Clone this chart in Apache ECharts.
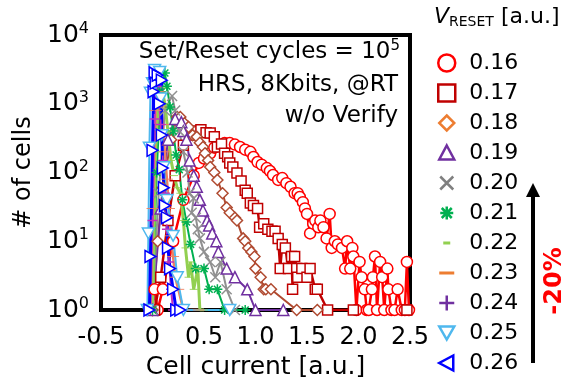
<!DOCTYPE html>
<html>
<head>
<meta charset="utf-8">
<script src="https://cdn.jsdelivr.net/npm/echarts@6/dist/echarts.min.js"></script>
<style>
  html, body { margin: 0; padding: 0; background: #fff; }
  #main { width: 570px; height: 380px; }
</style>
</head>
<body>
<div id="main"></div>
<script>
// V_RESET values (legend) and [cell current, # of cells]
var vReset = ['0.16', '0.17', '0.18', '0.19', '0.20', '0.21', '0.22', '0.23', '0.24', '0.25', '0.26'];
var yTicks = [1, 10, 100, 1000, 10000];
var xTicks = [-0.5, 0, 0.5, 1.0, 1.5, 2.0, 2.5];

var d016 = [[0.0,1],[0.02,2],[0.05,1],[0.1,2],[0.2,10],[0.3,40],[0.4,90],[0.45,138],[0.5,160],[0.56,190],[0.6,230],[0.66,250],[0.7,268],[0.75,268],[0.8,255],[0.85,235],[0.9,215],[0.95,200],[0.98,168],[1.02,142],[1.06,130],[1.11,116],[1.14,105],[1.17,92],[1.22,78],[1.26,83],[1.3,70],[1.34,62],[1.38,50],[1.41,50],[1.43,44],[1.46,37],[1.48,30],[1.5,25],[1.53,13],[1.56,18],[1.58,20],[1.61,16],[1.63,20],[1.66,16],[1.69,11],[1.72,25],[1.74,8],[1.77,10],[1.8,9],[1.84,8],[1.87,4],[1.89,10],[1.92,4],[1.94,8],[1.95,6],[1.98,1],[2.01,5],[2.03,3],[2.06,2],[2.08,1],[2.1,1],[2.13,2],[2.14,3],[2.16,6],[2.18,1],[2.21,5],[2.23,3],[2.25,1],[2.28,4],[2.29,2],[2.32,1],[2.35,1],[2.38,2],[2.42,1],[2.45,1],[2.47,5],[2.49,1]];
var d017 = [[0.02,1],[0.08,3],[0.15,20],[0.22,90],[0.3,250],[0.36,350],[0.39,380],[0.43,400],[0.47,420],[0.52,380],[0.56,375],[0.6,330],[0.63,235],[0.67,260],[0.7,190],[0.73,170],[0.75,138],[0.78,120],[0.82,98],[0.86,75],[0.9,55],[0.92,50],[0.95,36],[0.98,33],[1.02,30],[1.04,16],[1.08,18],[1.12,15],[1.16,14],[1.19,14],[1.22,11],[1.24,4],[1.26,9],[1.29,8],[1.32,4],[1.35,6],[1.36,2],[1.38,6],[1.4,4],[1.41,3],[1.45,4],[1.5,3],[1.53,4],[1.58,2],[1.6,2],[1.7,1],[1.95,1],[2.47,1]];
var d018 = [[0.0,1],[0.05,10],[0.1,60],[0.18,300],[0.24,640],[0.27,640],[0.31,520],[0.35,460],[0.39,350],[0.43,330],[0.46,270],[0.49,235],[0.51,190],[0.54,150],[0.56,120],[0.6,100],[0.63,78],[0.68,50],[0.72,31],[0.75,26],[0.8,22],[0.82,20],[0.88,11],[0.9,10],[0.93,8],[0.96,7],[0.99,6],[1.0,4],[1.05,3],[1.08,2],[1.1,2],[1.15,2],[1.4,1],[1.6,1]];
var d019 = [[0.0,1],[0.08,30],[0.15,300],[0.22,600],[0.28,540],[0.3,400],[0.33,300],[0.36,150],[0.4,90],[0.43,62],[0.46,40],[0.49,28],[0.53,20],[0.55,17],[0.58,13],[0.62,10],[0.64,7],[0.72,4],[0.8,3],[0.92,2],[1.0,1],[1.27,1]];
var d020 = [[0.0,1],[0.06,50],[0.12,800],[0.19,1300],[0.22,800],[0.26,400],[0.3,200],[0.34,100],[0.36,50],[0.4,42],[0.38,26],[0.42,22],[0.44,15],[0.46,11],[0.5,7],[0.56,5],[0.61,3],[0.66,5],[0.72,2],[0.8,1]];
var d021 = [[0.0,1],[0.04,100],[0.08,1500],[0.12,2800],[0.14,1800],[0.17,900],[0.2,400],[0.23,180],[0.26,110],[0.29,40],[0.33,19],[0.37,9],[0.42,4],[0.5,4],[0.55,2],[0.63,2],[0.7,1],[0.9,1]];
var d022 = [[0.0,1],[0.03,200],[0.06,1500],[0.09,1700],[0.12,1000],[0.15,400],[0.18,150],[0.21,90],[0.24,60],[0.27,50],[0.3,20],[0.32,8],[0.35,3],[0.37,5],[0.4,2],[0.44,4],[0.46,1],[0.5,1]];
var d023 = [[-0.02,1],[0.0,30],[0.03,800],[0.06,1500],[0.08,900],[0.1,500],[0.12,200],[0.14,80],[0.16,30],[0.18,12],[0.2,6],[0.22,3],[0.25,2],[0.3,1],[0.45,1]];
var d024 = [[-0.02,1],[0.0,20],[0.02,600],[0.04,1800],[0.06,1200],[0.08,500],[0.1,150],[0.12,50],[0.14,15],[0.16,5],[0.18,2],[0.2,1]];
var d025 = [[-0.05,1],[-0.04,13],[-0.03,230],[-0.02,1450],[0.0,2000],[0.02,3100],[0.07,2900],[0.08,1200],[0.09,350],[0.11,120],[0.14,40],[0.2,12],[0.24,3],[0.3,1],[0.75,1]];
var d026 = [[-0.03,1],[-0.02,6],[0.0,210],[0.01,1500],[0.02,2800],[0.03,2000],[0.05,2600],[0.07,1000],[0.09,2200],[0.09,350],[0.1,116],[0.11,60],[0.12,33],[0.14,22],[0.15,8],[0.17,4],[0.2,2],[0.23,1],[0.27,1]];

var FONT = 'DejaVu Sans';
// plot symbols
var PATH_X = 'path://M0,0 L10,10 M10,0 L0,10';
var PATH_AST = 'path://M5,0 L5,10 M0,5 L10,5 M1.5,1.5 L8.5,8.5 M8.5,1.5 L1.5,8.5';
var PATH_DASH = 'path://M0,0 L10,0 L10,3 L0,3 Z';
var PATH_PLUS = 'path://M5,0 L5,10 M0,5 L10,5';
var PATH_DOWN = 'path://M0,0 L10,0 L5,9 Z';
var PATH_RIGHT = 'path://M0,0 L9,5 L0,10 Z';
// legend icons (17x17 box)
var L_X = 'path://M0,0 M17,17 M2,2 L15,15 M15,2 L2,15';
var L_AST = 'path://M0,0 M17,17 M8.5,2 L8.5,15 M2,8.5 L15,8.5 M3.5,3.5 L13.5,13.5 M13.5,3.5 L3.5,13.5';
var L_DASH_S = 'path://M0,0 M17,17 M5,7 L12,7 L12,10 L5,10 Z';
var L_DASH_L = 'path://M0,0 M17,17 M1,7 L16,7 L16,10 L1,10 Z';
var L_PLUS = 'path://M0,0 M17,17 M8.5,1 L8.5,16 M1,8.5 L16,8.5';
var L_DOWN = 'path://M0,0 M17,17 M1,2 L16,2 L8.5,15 Z';
var L_LEFT = 'path://M0,0 M17,17 M15,1 L1,8.5 L15,16 Z';
var L_TRI = 'path://M0,0 M17,17 M8.5,1 L16,15 L1,15 Z';
var L_DIA = 'path://M0,0 M17,17 M8.5,1 L16,8.5 L8.5,16 L1,8.5 Z';

// name, data, plot color, legend color, symbol, legend icon, style kind, size, line width
var defs = [
  ['0.16', d016, '#ff0000', '#ff0000', 'circle', 'circle', 'fill', 11, 2.5],
  ['0.17', d017, '#c00000', '#c00000', 'rect', 'rect', 'fill', 10, 2.5],
  ['0.18', d018, '#b04a30', '#ed7d31', 'diamond', L_DIA, 'fill', 11, 2],
  ['0.19', d019, '#7030a0', '#7030a0', 'triangle', L_TRI, 'fill', 11, 2],
  ['0.20', d020, '#909090', '#808080', PATH_X, L_X, 'stroke', 10, 2],
  ['0.21', d021, '#00b050', '#00b050', PATH_AST, L_AST, 'stroke', 10, 2],
  ['0.22', d022, '#92d050', '#92d050', PATH_DASH, L_DASH_S, 'solid', [8, 3], 3],
  ['0.23', d023, '#f08060', '#ed7d31', PATH_DASH, L_DASH_L, 'solid', [12, 3], 2.5],
  ['0.24', d024, '#c030c0', '#7030a0', PATH_PLUS, L_PLUS, 'stroke', 10, 2],
  ['0.25', d025, '#4fb8ee', '#4fb8ee', PATH_DOWN, L_DOWN, 'fill', 12, 2],
  ['0.26', d026, '#0000ff', '#0000ff', PATH_RIGHT, L_LEFT, 'fill', 12, 3]
];

function itemStyleFor(kind, c, w) {
  if (kind === 'fill') return { color: '#fff', borderColor: c, borderWidth: w };
  if (kind === 'stroke') return { color: 'rgba(0,0,0,0)', borderColor: c, borderWidth: w };
  return { color: c, borderColor: c, borderWidth: 0 };
}

var series = defs.map(function (d) {
  return {
    name: d[0],
    type: 'line',
    data: d[1],
    symbol: d[4],
    symbolSize: d[7],
    symbolKeepAspect: true,
    lineStyle: { color: d[2], width: d[8] },
    itemStyle: itemStyleFor(d[6], d[2], 1.5),
    emphasis: { disabled: true },
    animation: false
  };
});

var legendData = defs.map(function (d) {
  return {
    name: d[0],
    icon: d[5],
    itemStyle: itemStyleFor(d[6], d[3], 2.5)
  };
});

var myChart = echarts.init(document.getElementById('main'));
var option = {
  animation: false,
  grid: {
    left: 101, right: 160, top: 35, bottom: 70,
    outerBoundsMode: 'none',
    show: true, borderColor: '#000', borderWidth: 4, backgroundColor: 'transparent'
  },
  xAxis: {
    type: 'value',
    min: xTicks[0], max: xTicks[xTicks.length - 1], interval: 0.5,
    name: 'Cell current [a.u.]',
    nameLocation: 'middle', nameGap: 44,
    nameTextStyle: { fontFamily: FONT, fontSize: 25, color: '#000' },
    axisLine: { show: false },
    axisTick: { show: false },
    splitLine: { show: false },
    axisLabel: {
      fontFamily: FONT, fontSize: 24, color: '#000', margin: 16,
      formatter: function (v) { return v === 0 ? '0' : v.toFixed(1); }
    }
  },
  yAxis: {
    type: 'log', logBase: 10,
    min: yTicks[0], max: yTicks[yTicks.length - 1],
    name: '# of cells',
    nameLocation: 'middle', nameGap: 60, nameRotate: 90,
    nameTextStyle: { fontFamily: FONT, fontSize: 24, color: '#000' },
    axisLine: { show: false },
    axisTick: { show: true, inside: true, length: 7, lineStyle: { color: '#000', width: 3 } },
    splitLine: { show: false },
    minorTick: { show: false },
    axisLabel: {
      margin: 12,
      formatter: function (v) {
        return '{b|10}{s|' + Math.round(Math.log10(v)) + '}';
      },
      rich: {
        b: { fontFamily: FONT, fontSize: 25, color: '#000' },
        s: { fontFamily: FONT, fontSize: 16, color: '#000', verticalAlign: 'top', padding: [0, 0, 12, 0] }
      }
    }
  },
  legend: {
    orient: 'vertical',
    left: 437, top: 52, height: 328, padding: 0,
    itemWidth: 17, itemHeight: 17, itemGap: 8,
    selectedMode: false,
    textStyle: { fontFamily: FONT, fontSize: 22, color: '#000', padding: [0, 0, 0, 9] },
    data: legendData
  },
  graphic: [
    {
      type: 'text', left: 434, top: 6,
      style: {
        text: '{v|V}{s|RESET}{b| [a.u.]}',
        rich: {
          v: { fontFamily: FONT, fontSize: 22, fontStyle: 'italic', fill: '#000' },
          s: { fontFamily: FONT, fontSize: 14, fill: '#000', verticalAlign: 'bottom', padding: [10, 0, 0, 0] },
          b: { fontFamily: FONT, fontSize: 22, fill: '#000' }
        }
      }
    },
    {
      type: 'text', x: 400, y: 52,
      style: {
        text: '{t|Set/Reset cycles = 10}{s|5}',
        align: 'right', verticalAlign: 'middle',
        rich: {
          t: { fontFamily: FONT, fontSize: 23, fill: '#000' },
          s: { fontFamily: FONT, fontSize: 15, fill: '#000', padding: [0, 0, 12, 0] }
        }
      }
    },
    {
      type: 'text', x: 398, y: 85,
      style: { text: 'HRS, 8Kbits, @RT', fontFamily: FONT, fontSize: 23, fill: '#000', align: 'right', verticalAlign: 'middle' }
    },
    {
      type: 'text', x: 398, y: 116,
      style: { text: 'w/o Verify', fontFamily: FONT, fontSize: 23, fill: '#000', align: 'right', verticalAlign: 'middle' }
    },
    {
      type: 'line', shape: { x1: 533, y1: 363, x2: 533, y2: 194 },
      style: { stroke: '#000', lineWidth: 4 }
    },
    {
      type: 'polygon', shape: { points: [[526, 197], [540, 197], [533, 183]] },
      style: { fill: '#000' }
    },
    {
      type: 'text', x: 555, y: 281, rotation: Math.PI / 2,
      style: { text: '-20%', fontFamily: FONT, fontSize: 24, fontWeight: 'bold', fill: '#ff0000', align: 'center', verticalAlign: 'middle' }
    }
  ],
  series: series
};
myChart.setOption(option);
</script>
</body>
</html>
